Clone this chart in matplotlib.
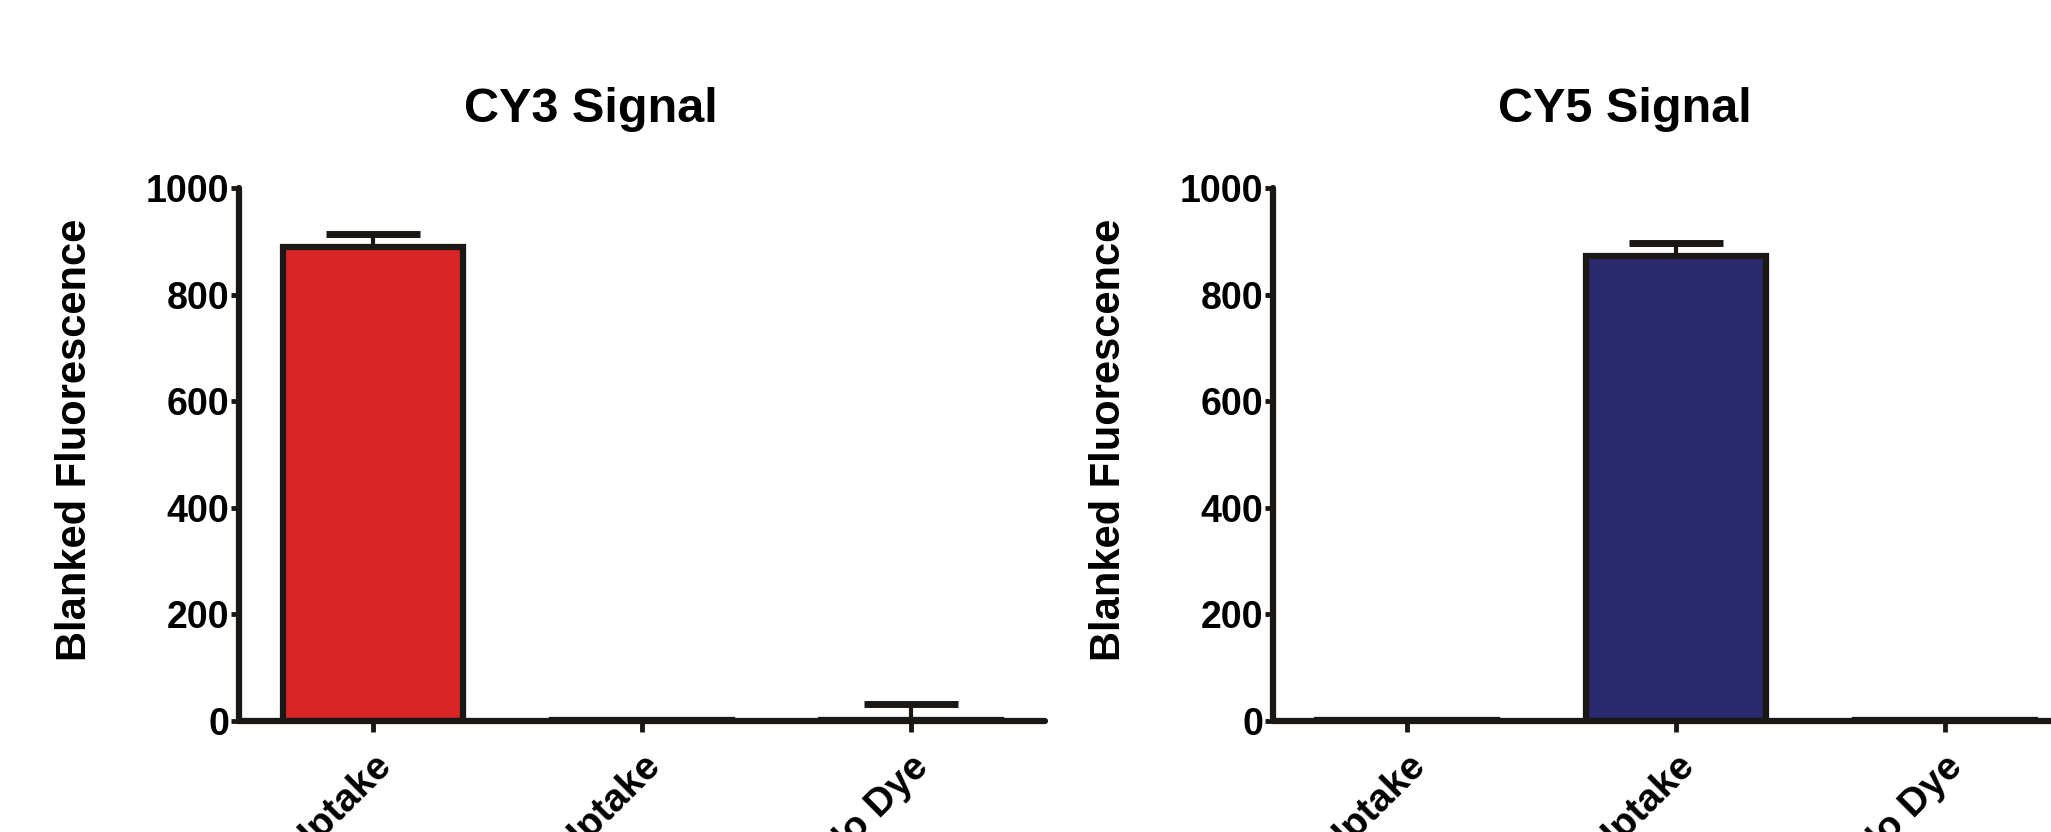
import matplotlib
matplotlib.use("Agg")
import matplotlib.pyplot as plt

# values
groups = ["CY3 Uptake", "CY5 Uptake", "No Dye"]
cy3_mean = [890, 2, 2]
cy3_sem = [23, 0, 30]
cy5_mean = [2, 872, 2]
cy5_sem = [0, 24, 0]
yticks = [0, 200, 400, 600, 800, 1000]

RED = "#da2527"
NAVY = "#2b2a6e"
INK = "#1a1714"

plt.rcParams["font.family"] = ["Liberation Sans", "DejaVu Sans"]
plt.rcParams["font.weight"] = "bold"


def draw_panel(ax, title, means, sems, color):
    x = list(range(len(groups)))
    ax.bar(x, means, width=0.67, color=color, edgecolor=INK,
           linewidth=4.5, zorder=2)
    ax.errorbar(x, means, yerr=[[0] * len(sems), sems], fmt="none",
                ecolor=INK, elinewidth=3, capsize=34, capthick=5,
                zorder=1)

    ax.set_xlim(-0.5, 2.5)
    ax.set_ylim(0, 1000)
    ax.set_yticks(yticks)
    ax.set_xticks(x)
    ax.set_xticklabels(groups, rotation=45, ha="right",
                       rotation_mode="anchor", fontsize=28,
                       fontweight="bold")
    for lbl in ax.get_yticklabels():
        lbl.set_fontsize(27)
        lbl.set_fontweight("bold")

    for side in ["top", "right"]:
        ax.spines[side].set_visible(False)
    for side in ["left", "bottom"]:
        ax.spines[side].set_linewidth(4.5)
        ax.spines[side].set_color(INK)
        ax.spines[side].set_capstyle("round")
    ax.spines["left"].set_zorder(3)
    ax.spines["bottom"].set_zorder(3)

    ax.tick_params(axis="y", direction="out", length=6, width=3.5,
                   color=INK, pad=1)
    ax.tick_params(axis="x", direction="out", length=8, width=3.5,
                   color=INK, pad=12)

    ax.set_ylabel("Blanked Fluorescence", fontsize=30, fontweight="bold")
    ax.yaxis.set_label_coords(-144 / 806, 0.527)
    ax.text(0.437, 1 + 79 / 533, title, transform=ax.transAxes,
            ha="center", va="center", fontsize=35, fontweight="bold")


fig = plt.figure(figsize=(20.51, 8.32), dpi=100)
ax1 = fig.add_axes([239 / 2051, 111 / 832, 806 / 2051, 533 / 832])
ax2 = fig.add_axes([1273 / 2051, 111 / 832, 806 / 2051, 533 / 832])

draw_panel(ax1, "CY3 Signal", cy3_mean, cy3_sem, RED)
draw_panel(ax2, "CY5 Signal", cy5_mean, cy5_sem, NAVY)

fig.savefig("out.png", dpi=100)
